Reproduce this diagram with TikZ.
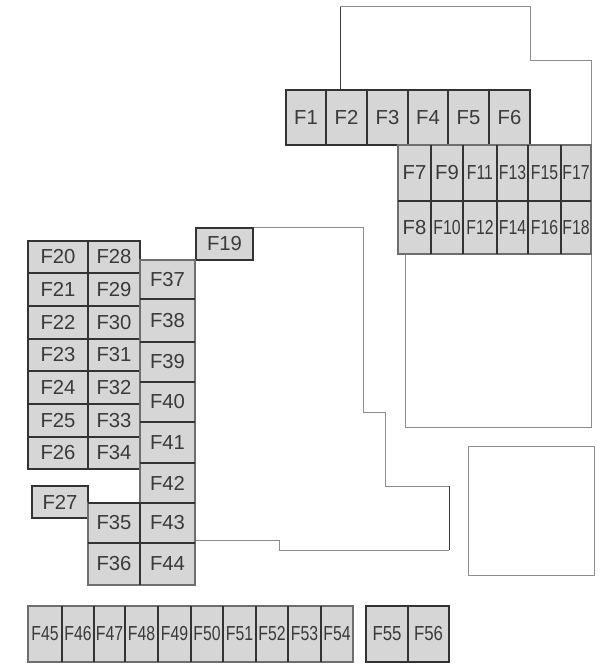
\documentclass[tikz,border=0pt]{standalone}
\usepackage{fontspec}
\setmainfont{Liberation Sans}
\definecolor{fusefill}{HTML}{D6D6D6}
\definecolor{fuseline}{HTML}{333333}
\definecolor{fusetext}{HTML}{3A3A3A}
\definecolor{outlinegray}{HTML}{8C8C8C}
\definecolor{outlinedark}{HTML}{3C3C3C}
\definecolor{softgray}{HTML}{6E6E6E}
\tikzset{
  fuse/.style={draw=fuseline,fill=fusefill,line width=1.9pt,inner sep=0pt,outer sep=0pt,text=fusetext,font=\fontsize{15.2}{17}\selectfont},
  softedge/.style={draw=softgray,line width=1.1pt},
  divider/.style={draw=fuseline,line width=1.9pt},
  outlinepale/.style={draw=outlinegray,line width=.7pt},
  outlinestrong/.style={draw=outlinedark,line width=.7pt},
}
% [xscale], x0, y0, x1, y1, label, style
\newcommand{\fusebox}[7][1]{%
  \node[fuse,#7,minimum width={(#4-#2)*0.75pt},minimum height={(#5-#3)*0.75pt}] (#6) at ({(#2+#4)/2},{(#3+#5)/2}) {\scalebox{#1}[1]{#6}};}
\begin{document}
\begin{tikzpicture}[x=0.75pt,y=-0.75pt]
\useasboundingbox (0,0) rectangle (605,669);
% outlines
\draw[outlinestrong] (340,90) -- (340,6);
\draw[outlinepale] (340,6) -- (530,6) -- (530,60) -- (591,60) -- (591,144);
\draw[outlinepale] (405,254) -- (405,427) -- (591,427) -- (591,254);
\draw[outlinepale] (253,227) -- (363,227) -- (363,412) -- (385,412) -- (385,486) -- (449,486);
\draw[outlinestrong] (449,486) -- (449,550);
\draw[outlinepale] (449,550) -- (279,550) -- (279,540) -- (195,540);
\draw[outlinepale] (468,446) rectangle (594,575);
% top row
\fusebox{286}{90}{326}{145}{F1}{}
\fusebox{326}{90}{367}{145}{F2}{}
\fusebox{367}{90}{408}{145}{F3}{}
\fusebox{408}{90}{448}{145}{F4}{}
\fusebox{448}{90}{489}{145}{F5}{}
\fusebox{489}{90}{530}{145}{F6}{}
% right block
\fusebox{398}{145}{431}{201}{F7}{softedge}
\fusebox{398}{201}{431}{254}{F8}{softedge}
\fusebox{431}{145}{463}{201}{F9}{softedge}
\fusebox[.78]{431}{201}{463}{254}{F10}{softedge}
\fusebox[.78]{463}{145}{497}{201}{F11}{softedge}
\fusebox[.78]{463}{201}{497}{254}{F12}{softedge}
\fusebox[.78]{497}{145}{528}{201}{F13}{softedge}
\fusebox[.78]{497}{201}{528}{254}{F14}{softedge}
\fusebox[.78]{528}{145}{561}{201}{F15}{softedge}
\fusebox[.78]{528}{201}{561}{254}{F16}{softedge}
\fusebox[.78]{561}{145}{591}{201}{F17}{softedge}
\fusebox[.78]{561}{201}{591}{254}{F18}{softedge}
\draw[divider] (F7.south west) -- (F17.south east);
\foreach \u/\v in {F7/F8,F9/F10,F11/F12,F13/F14,F15/F16}
  \draw[divider] (\u.north east) -- (\v.south east);
% F19
\fusebox{196}{228}{253}{260}{F19}{}
% left block
\fusebox{28}{241}{88}{273}{F20}{}
\fusebox{28}{273}{88}{306}{F21}{}
\fusebox{28}{306}{88}{339}{F22}{}
\fusebox{28}{339}{88}{371}{F23}{}
\fusebox{28}{371}{88}{404}{F24}{}
\fusebox{28}{404}{88}{437}{F25}{}
\fusebox{28}{437}{88}{469}{F26}{}
\fusebox{32}{486}{88}{518}{F27}{}
\fusebox{88}{241}{140}{273}{F28}{}
\fusebox{88}{273}{140}{306}{F29}{}
\fusebox{88}{306}{140}{339}{F30}{}
\fusebox{88}{339}{140}{371}{F31}{}
\fusebox{88}{371}{140}{404}{F32}{}
\fusebox{88}{404}{140}{437}{F33}{}
\fusebox{88}{437}{140}{469}{F34}{}
% column
\fusebox{88}{503}{140}{543}{F35}{softedge}
\fusebox{88}{543}{140}{585}{F36}{softedge}
\fusebox{140}{260}{195}{299}{F37}{softedge}
\fusebox{140}{299}{195}{342}{F38}{softedge}
\fusebox{140}{342}{195}{382}{F39}{softedge}
\fusebox{140}{382}{195}{422}{F40}{softedge}
\fusebox{140}{422}{195}{463}{F41}{softedge}
\fusebox{140}{463}{195}{503}{F42}{softedge}
\fusebox{140}{503}{195}{543}{F43}{softedge}
\fusebox{140}{543}{195}{585}{F44}{softedge}
\foreach \u in {F37,F38,F39,F40,F41,F42,F43}
  \draw[divider] (\u.south west) -- (\u.south east);
\draw[divider] (F35.north west) -- (F43.north west);
\draw[divider] (F35.south west) -- (F43.south west);
\draw[divider,line width=1.1pt] (F35.north east) -- (F36.south east);
% bottom row
\fusebox[.78]{28}{606}{62}{662}{F45}{softedge}
\fusebox[.78]{62}{606}{94}{662}{F46}{softedge}
\fusebox[.78]{94}{606}{125}{662}{F47}{softedge}
\fusebox[.78]{125}{606}{158}{662}{F48}{softedge}
\fusebox[.78]{158}{606}{191}{662}{F49}{softedge}
\fusebox[.78]{191}{606}{223}{662}{F50}{softedge}
\fusebox[.78]{223}{606}{256}{662}{F51}{softedge}
\fusebox[.78]{256}{606}{288}{662}{F52}{softedge}
\fusebox[.78]{288}{606}{321}{662}{F53}{softedge}
\fusebox[.78]{321}{606}{353}{662}{F54}{softedge}
\foreach \u in {F45,F46,F47,F48,F49,F50,F51,F52,F53}
  \draw[divider] (\u.north east) -- (\u.south east);
\fusebox[.83]{366}{606}{408}{662}{F55}{}
\fusebox[.83]{408}{606}{449}{662}{F56}{}
\end{tikzpicture}
\end{document}
